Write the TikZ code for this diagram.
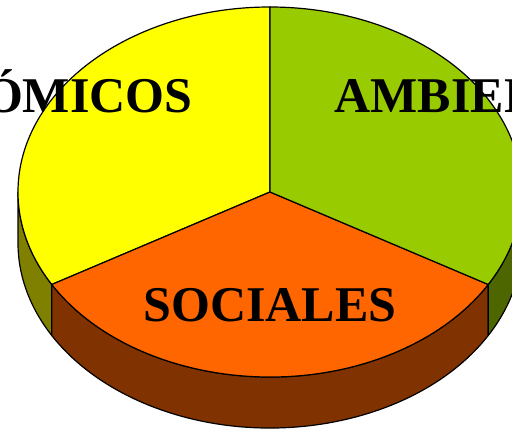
\documentclass[tikz,border=0pt]{standalone}
\usepackage{fontspec}
\setmainfont{Liberation Serif}
\usepackage{tikz}
\usetikzlibrary{calc}
\definecolor{amarillo}{RGB}{255,255,0}
\definecolor{verde}{RGB}{153,204,0}
\definecolor{naranja}{RGB}{255,102,0}
\definecolor{oliva}{RGB}{128,128,0}
\definecolor{marron}{RGB}{128,51,0}
\definecolor{verdeosc}{RGB}{77,102,0}

\begin{document}
\begin{tikzpicture}[x=1pt,y=1pt,line width=1.2pt,line join=round,
  rotulo/.style={font=\fontsize{50}{50}\selectfont\bfseries,inner sep=0pt}]
\useasboundingbox (0,0) rectangle (512,431);
\clip (0,0) rectangle (512,431);
\def\rx{252}
\def\ry{185}
\def\h{51}
\coordinate (O) at (270,239);
% lados
\draw[fill=oliva] ($(O)+(180:{\rx} and {\ry})$) arc[start angle=180,end angle=210,x radius=\rx,y radius=\ry] -- ++(0,-\h) arc[start angle=210,end angle=180,x radius=\rx,y radius=\ry] -- cycle;
\draw[fill=marron] ($(O)+(210:{\rx} and {\ry})$) arc[start angle=210,end angle=330,x radius=\rx,y radius=\ry] -- ++(0,-\h) arc[start angle=330,end angle=210,x radius=\rx,y radius=\ry] -- cycle;
\draw[fill=verdeosc] ($(O)+(330:{\rx} and {\ry})$) arc[start angle=330,end angle=360,x radius=\rx,y radius=\ry] -- ++(0,-\h) arc[start angle=360,end angle=330,x radius=\rx,y radius=\ry] -- cycle;
% tapa
\draw[fill=amarillo] (O) -- ($(O)+(90:{\rx} and {\ry})$) arc[start angle=90,end angle=210,x radius=\rx,y radius=\ry] -- cycle;
\draw[fill=naranja] (O) -- ($(O)+(210:{\rx} and {\ry})$) arc[start angle=210,end angle=330,x radius=\rx,y radius=\ry] -- cycle;
\draw[fill=verde] (O) -- ($(O)+(330:{\rx} and {\ry})$) arc[start angle=330,end angle=450,x radius=\rx,y radius=\ry] -- cycle;
% rotulos
\node[rotulo,anchor=base east] (econ) at (193,318) {ECONÓMICOS};
\node[rotulo,anchor=base west] (amb) at (334,318) {AMBIENTALES};
\node[rotulo,anchor=base] (soc) at (270,109) {SOCIALES};
\end{tikzpicture}
\end{document}
